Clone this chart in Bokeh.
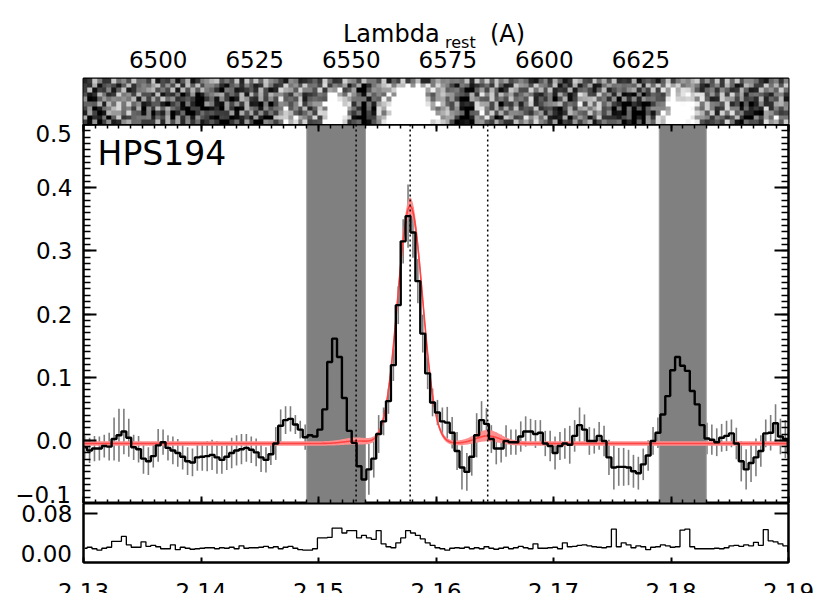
import numpy as np
from bokeh.plotting import figure
from bokeh.layouts import column
from bokeh.models import (Range1d, LinearAxis, SingleIntervalTicker, FixedTicker,
                          CustomJSTickFormatter, Label, Span, LinearColorMapper,
                          CustomLabelingPolicy, Div)
from bokeh.palettes import Greys256
from bokeh.embed import file_html
from bokeh.resources import INLINE

FONT = "DejaVu Sans"

# ---------------- data ----------------
lam_first_center = 2.1301      # micron, centre of first spectral bin
bin_width = 0.000417           # micron

flux = [
    -0.011, -0.016, -0.013, -0.013, -0.009, -0.010, 0.002, 0.008, 0.014, 0.004,
    -0.011, -0.014, -0.029, -0.033, -0.025, -0.008, -0.003, -0.012, -0.016, -0.020,
    -0.026, -0.033, -0.035, -0.027, -0.026, -0.025, -0.023, -0.027, -0.031, -0.026,
    -0.020, -0.016, -0.014, -0.012, -0.015, -0.019, -0.027, -0.031, -0.022, -0.005,
    0.023, 0.032, 0.034, 0.025, 0.017, 0.005, 0.008, 0.006, 0.017, 0.049,
    0.124, 0.161, 0.132, 0.067, 0.015, -0.004, -0.041, -0.062, -0.046, -0.029,
    0.010, 0.030, 0.062, 0.119, 0.214, 0.315, 0.355, 0.329, 0.252, 0.169,
    0.106, 0.060, 0.044, 0.030, 0.028, 0.012, -0.017, -0.043, -0.050, -0.026,
    0.008, 0.032, 0.026, 0.002, -0.013, -0.013, -0.001, -0.003, -0.003, 0.006,
    0.014, 0.014, 0.010, 0.012, -0.005, -0.009, -0.020, -0.009, -0.005, -0.007,
    0.007, 0.024, 0.017, -0.001, -0.001, 0.007, -0.001, -0.027, -0.043, -0.042,
    -0.042, -0.043, -0.049, -0.052, -0.038, -0.024, -0.001, 0.012, 0.041, 0.070,
    0.111, 0.132, 0.118, 0.110, 0.078, 0.057, 0.024, 0.003, 0.001, -0.003,
    0.004, 0.007, 0.011, -0.005, -0.033, -0.046, -0.036, -0.027, -0.017, 0.011,
    0.012, 0.027, 0.006, 0.002, -0.021,
]

err_bar = [
    0.018, 0.020, 0.020, 0.019, 0.018, 0.022, 0.034, 0.042, 0.036, 0.030,
    0.020, 0.021, 0.024, 0.022, 0.018, 0.026, 0.020, 0.020, 0.022, 0.022,
    0.020, 0.022, 0.022, 0.021, 0.022, 0.024, 0.024, 0.026, 0.022, 0.021,
    0.024, 0.024, 0.024, 0.022, 0.021, 0.022, 0.023, 0.020, 0.017, 0.026,
    0.026, 0.022, 0.020, 0.015, 0.014, 0.020, 0.020, 0.020, 0.030, 0.030,
    0.035, 0.040, 0.040, 0.040, 0.040, 0.035, 0.035, 0.040, 0.040, 0.030,
    0.030, 0.022, 0.020, 0.025, 0.030, 0.035, 0.050, 0.040, 0.035, 0.030,
    0.025, 0.022, 0.020, 0.022, 0.025, 0.025, 0.030, 0.035, 0.030, 0.030,
    0.035, 0.030, 0.025, 0.022, 0.025, 0.022, 0.025, 0.020, 0.020, 0.024,
    0.024, 0.020, 0.022, 0.020, 0.020, 0.024, 0.026, 0.022, 0.024, 0.030,
    0.025, 0.028, 0.024, 0.022, 0.020, 0.022, 0.024, 0.028, 0.035, 0.030,
    0.030, 0.028, 0.026, 0.026, 0.025, 0.024, 0.022, 0.024, 0.030, 0.030,
    0.030, 0.030, 0.030, 0.030, 0.030, 0.030, 0.030, 0.025, 0.024, 0.022,
    0.022, 0.024, 0.022, 0.025, 0.032, 0.032, 0.030, 0.030, 0.025, 0.022,
    0.028, 0.030, 0.028, 0.030, 0.030,
]

err_spec = [
    0.009, 0.011, 0.008, 0.005, 0.009, 0.011, 0.023, 0.023, 0.033, 0.016,
    0.011, 0.011, 0.022, 0.013, 0.015, 0.012, 0.008, 0.008, 0.016, 0.006,
    0.011, 0.009, 0.007, 0.008, 0.009, 0.010, 0.010, 0.008, 0.010, 0.009,
    0.011, 0.008, 0.014, 0.009, 0.010, 0.010, 0.011, 0.013, 0.010, 0.012,
    0.008, 0.011, 0.013, 0.009, 0.006, 0.005, 0.005, 0.008, 0.030, 0.030,
    0.031, 0.050, 0.050, 0.040, 0.045, 0.045, 0.030, 0.035, 0.030, 0.027,
    0.045, 0.018, 0.012, 0.010, 0.020, 0.030, 0.045, 0.040, 0.035, 0.028,
    0.020, 0.015, 0.010, 0.008, 0.005, 0.009, 0.010, 0.009, 0.011, 0.008,
    0.010, 0.008, 0.012, 0.009, 0.007, 0.009, 0.011, 0.008, 0.010, 0.013,
    0.010, 0.008, 0.018, 0.009, 0.009, 0.010, 0.011, 0.008, 0.020, 0.012,
    0.013, 0.015, 0.016, 0.014, 0.012, 0.011, 0.010, 0.012, 0.048, 0.012,
    0.020, 0.016, 0.010, 0.014, 0.012, 0.006, 0.011, 0.012, 0.016, 0.014,
    0.011, 0.012, 0.046, 0.048, 0.012, 0.008, 0.008, 0.008, 0.008, 0.009,
    0.008, 0.010, 0.014, 0.015, 0.013, 0.016, 0.014, 0.021, 0.015, 0.047,
    0.024, 0.022, 0.018, 0.014, 0.002,
]

mask_left = [2.1490, 2.1790]        # sky-line masked regions (micron)
mask_right = [2.1540, 2.1830]
line_obs = [2.1532, 2.1578, 2.1644]  # [NII]6548, Halpha, [NII]6583 (observed)

x_limits = (2.13, 2.19)
y_limits_main = (-0.1, 0.5)
y_limits_err = (-0.02, 0.10)
err_ticks = [0.0, 0.08]
z_axis = 2.2867
rest_ticks = [6500, 6525, 6550, 6575, 6600, 6625]
object_name = "HPS194"

# Gaussian fit
fit_continuum = -0.005
fit_centers = [2.1532, 2.1578, 2.1644]
fit_sigma = 0.00107
fit_amp_low = [0.002, 0.366, 0.007]
fit_amp_mid = [0.004, 0.376, 0.012]
fit_amp_high = [0.006, 0.386, 0.018]

# spatial profile of the 2D strip (bottom row -> top row)
strip_profile = [0.9, 1.0, 1.0, 0.9, 0.8, 0.6, 0.45, 0.3, 0.15, 0.05]

# ---------------- derived ----------------
n = len(flux)
lam = lam_first_center + bin_width * np.arange(n)
flux_a = np.array(flux)
err_a = np.array(err_bar)
err_s = np.array(err_spec)

lam_fine = np.linspace(x_limits[0], x_limits[1], 1200)


def model(amps, x):
    out = np.full_like(x, fit_continuum)
    for a, c in zip(amps, fit_centers):
        out = out + a * np.exp(-0.5 * ((x - c) / fit_sigma) ** 2)
    return out


m_low = model(fit_amp_low, lam_fine)
m_mid = model(fit_amp_mid, lam_fine)
m_high = model(fit_amp_high, lam_fine)

onez = 1.0 + z_axis
rest_limits = (x_limits[0] * 1e4 / onez, x_limits[1] * 1e4 / onez)

# 2D strip built from the 1D spectrum values (texture taken from the same data)
tex_src = np.clip(flux_a, -0.04, 0.04)
img = np.empty((len(strip_profile), n))
for r, prof in enumerate(strip_profile):
    idx = (np.arange(n) * 37 + r * 59 + r * r * 13) % n
    img[r] = flux_a * prof + 1.0 * tex_src[idx]

# ---------------- layout constants ----------------
FRAME_W = 705
LEFT = 83
RIGHT = 30
TOP = 78
H_STRIP, H_MAIN, H_ERR, BOTTOM = 46, 379, 59, 52
W_TOTAL = LEFT + FRAME_W + RIGHT
H_TOTAL = TOP + H_STRIP + H_MAIN + H_ERR + BOTTOM
TICK_FS = "23px"


def make_fig(frame_h, x_range, y_range, top=0, bottom=0):
    p = figure(frame_width=FRAME_W, frame_height=frame_h,
               x_range=x_range, y_range=y_range,
               x_axis_location=None, y_axis_location=None,
               toolbar_location=None, output_backend="svg",
               min_border=0, min_border_left=LEFT, min_border_right=RIGHT,
               min_border_top=top, min_border_bottom=bottom,
               outline_line_color="black", outline_line_width=2,
               background_fill_color="white", border_fill_color="white")
    p.grid.visible = False
    return p


def add_axis(p, side, ticker, formatter=None, major_in=0, minor_in=0,
             standoff=10, size=TICK_FS):
    ax = LinearAxis(ticker=ticker)
    ax.major_tick_in = major_in
    ax.major_tick_out = 0
    ax.minor_tick_in = minor_in
    ax.minor_tick_out = 0
    ax.axis_line_width = 2
    ax.major_tick_line_width = 2
    ax.minor_tick_line_width = 1.5
    if formatter is not None:
        ax.formatter = formatter
        ax.major_label_text_font = FONT
        ax.major_label_text_font_size = size
        ax.major_label_text_color = "black"
        ax.major_label_standoff = standoff
    else:
        ax.formatter = CustomJSTickFormatter(code='return "";')
        ax.major_label_policy = CustomLabelingPolicy(
            code="for (const i of indices) { indices.unset(i) }")
        ax.major_label_text_font_size = "1px"
        ax.major_label_standoff = 0
    p.add_layout(ax, side)
    return ax


# ---------------- top strip (2D spectrum) ----------------
p_top = make_fig(H_STRIP, Range1d(*rest_limits), Range1d(0, len(strip_profile)), top=TOP)
mapper = LinearColorMapper(palette=Greys256, low=-0.05, high=0.065)
rest_left = (lam[0] - bin_width / 2) * 1e4 / onez
rest_w = n * bin_width * 1e4 / onez
p_top.image(image=[img], x=rest_left, y=0, dw=rest_w, dh=len(strip_profile),
            color_mapper=mapper)
ax_top = add_axis(p_top, "above", FixedTicker(ticks=rest_ticks, minor_ticks=[]),
                  formatter=CustomJSTickFormatter(code="return tick.toFixed(0);"),
                  standoff=11)
ax_top.axis_line_color = None

# ---------------- main spectrum ----------------
x_range = Range1d(*x_limits)
p_main = make_fig(H_MAIN, x_range, Range1d(*y_limits_main))

main_fmt = CustomJSTickFormatter(code="""
if (Math.abs(tick - 0.5) < 1e-6 || Math.abs(tick + 0.1) < 1e-6) { return ""; }
if (Math.abs(tick) < 1e-9) { return "0.0"; }
return tick.toFixed(1).replace("-", "\u2212");
""")
add_axis(p_main, "left", SingleIntervalTicker(interval=0.1, num_minor_ticks=10),
         formatter=main_fmt, major_in=13, minor_in=7, standoff=11)
add_axis(p_main, "right", SingleIntervalTicker(interval=0.1, num_minor_ticks=10),
         major_in=14, minor_in=7)
add_axis(p_main, "below", SingleIntervalTicker(interval=0.01, num_minor_ticks=10),
         major_in=7, minor_in=4)
add_axis(p_main, "above", SingleIntervalTicker(interval=0.01, num_minor_ticks=10),
         major_in=7, minor_in=4)

# error bars
p_main.segment(x0=lam, y0=flux_a - err_a, x1=lam, y1=flux_a + err_a,
               line_color="#7d7d7d", line_width=1.6)
# masked sky regions
p_main.quad(left=mask_left, right=mask_right,
            bottom=y_limits_main[0], top=y_limits_main[1],
            fill_color="#808080", line_color="#9c9c9c", line_width=1)
# fit
p_main.varea(x=lam_fine, y1=m_low - 0.0035, y2=m_high + 0.0035,
             fill_color="#ff8e8e", fill_alpha=1.0)
p_main.line(lam_fine, m_mid, line_color="#ff4444", line_width=1.6)
# spectrum
p_main.step(lam, flux_a, mode="center", line_color="black", line_width=2.4)
# emission line positions
for lo in line_obs:
    p_main.add_layout(Span(location=lo, dimension="height", line_color="black",
                           line_width=1.5, line_dash="2 3"))

p_main.add_layout(Label(x=2.1312, y=0.454, text=object_name, text_font=FONT,
                        text_font_size="33px", text_baseline="middle",
                        text_align="left", text_color="black"))

# ---------------- error spectrum ----------------
p_err = make_fig(H_ERR, x_range, Range1d(*y_limits_err), bottom=BOTTOM)
err_fmt = CustomJSTickFormatter(code="""
if (Math.abs(tick) < 1e-9) { return ""; }
return tick.toFixed(2);
""")
add_axis(p_err, "left", FixedTicker(ticks=err_ticks[1:], minor_ticks=[]),
         formatter=err_fmt, major_in=14, standoff=11)
add_axis(p_err, "right", FixedTicker(ticks=err_ticks[1:], minor_ticks=[]),
         major_in=14)
add_axis(p_err, "below", SingleIntervalTicker(interval=0.01, num_minor_ticks=0),
         formatter=CustomJSTickFormatter(code="return tick.toFixed(2);"),
         major_in=5, standoff=20)
p_err.step(lam, err_s, mode="center", line_color="black", line_width=1.3)

# ---------------- transparent HTML overlay for texts outside the frames ----------------
overlay_texts = [
    # text, x(px), baseline y(px), font size(px), align
    ("Lambda", 343, 42, 24, "left"),
    ("rest", 445, 48.5, 16, "left"),
    ("(A)", 490, 42, 24, "left"),
    ("0.5", 72, 142, 23, "right"),
    ("\u22120.1", 71, 503, 23, "right"),
    ("0.00", 72, 562, 23, "right"),
]
spans = []
for txt, xx, yy, fs, al in overlay_texts:
    top_px = yy - 0.846 * fs
    pos = f"left:{xx}px;" if al == "left" else f"right:{W_TOTAL - xx}px;"
    spans.append(
        f'<span style="position:absolute;{pos}top:{top_px:.1f}px;'
        f'font-size:{fs}px;line-height:{fs}px;white-space:nowrap;">{txt}</span>')
overlay_html = (f'<div style="position:relative;width:{W_TOTAL}px;height:{H_TOTAL}px;'
                f"font-family:'{FONT}';color:#000;margin:0;padding:0;\">"
                + "".join(spans) + "</div>")
overlay = Div(text=overlay_html, width=W_TOTAL, height=H_TOTAL,
              margin=(-H_TOTAL, 0, 0, 0))

layout = column(p_top, p_main, p_err, overlay, spacing=0)
open("out.html", "w").write(file_html(layout, INLINE))
